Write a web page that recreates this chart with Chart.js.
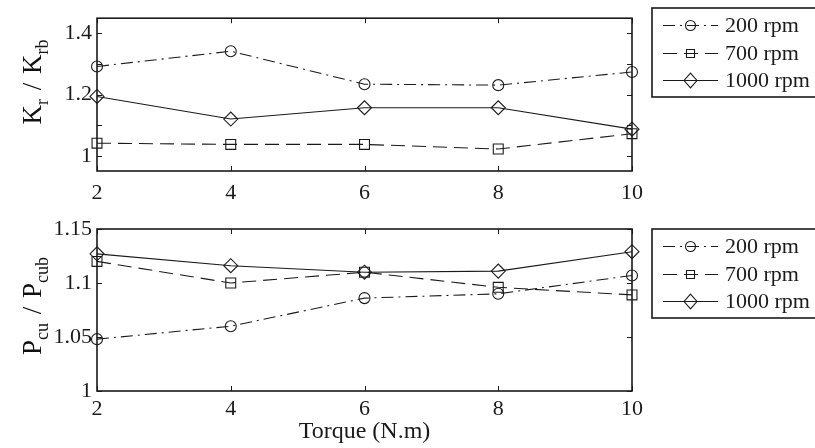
<!DOCTYPE html>
<html lang="en">
<head>
    <meta charset="UTF-8">
    <title>Kr/Krb and Pcu/Pcub vs torque</title>
    <style>
        body { margin: 0; background: #ffffff; }
        #wrap { position: relative; width: 815px; height: 448px; overflow: hidden; font-family: "Liberation Serif", serif; color: #111; }
        canvas { position: absolute; left: 0; }
        #c1 { top: 0; }
        #c2 { top: 210px; }
        .ytitle { position: absolute; width: 0; height: 0; }
        .ytitle span { position: absolute; white-space: nowrap; font-size: 27px; line-height: 1; word-spacing: 2px;
            transform: translate(-50%, -50%) rotate(-90deg); }
        .ytitle sub { font-size: 18px; vertical-align: -7px; }
    </style>
</head>
<body>
<div id="wrap">
    <canvas id="c1" width="815" height="210"></canvas>
    <canvas id="c2" width="815" height="238"></canvas>
    <div class="ytitle" style="left:35px; top:82px;"><span>K<sub>r</sub> / K<sub>rb</sub></span></div>
    <div class="ytitle" style="left:35px; top:306px;"><span>P<sub>cu</sub> / P<sub>cub</sub></span></div>
</div>

<script src="https://cdn.jsdelivr.net/npm/chart.js"></script>
<script>
// data
const torque = [2, 4, 6, 8, 10];
const seriesNames = ['200 rpm', '700 rpm', '1000 rpm'];

const kr200  = [1.292, 1.342, 1.234, 1.231, 1.274];
const kr700  = [1.041, 1.037, 1.037, 1.022, 1.072];
const kr1000 = [1.194, 1.120, 1.157, 1.157, 1.087];

const pcu200  = [1.048, 1.060, 1.086, 1.090, 1.107];
const pcu700  = [1.120, 1.100, 1.110, 1.096, 1.089];
const pcu1000 = [1.127, 1.116, 1.110, 1.111, 1.129];

const krTicks  = [1, 1.1, 1.2, 1.3, 1.4];
const krLabels = ['1', '', '1.2', '', '1.4'];
const pcuTicks  = [1, 1.05, 1.1, 1.15];
const pcuLabels = ['1', '1.05', '1.1', '1.15'];

const INK = '#1a1a1a';
const FONT = '"Liberation Serif", serif';
const styles = [
    { dash: [12, 5, 2, 5], point: 'circle', radius: 5.5 },
    { dash: [14, 7], point: 'rect', radius: 7 },
    { dash: [], point: 'rectRot', radius: 7 }
];

function makeSets(values) {
    return values.map((vals, i) => ({
        label: seriesNames[i],
        data: torque.map((t, j) => ({ x: t, y: vals[j] })),
        borderColor: INK,
        borderWidth: 1.1,
        borderDash: styles[i].dash,
        pointStyle: styles[i].point,
        pointRadius: styles[i].radius,
        pointBorderColor: INK,
        pointBorderWidth: 1.1,
        pointBackgroundColor: 'rgba(0,0,0,0)',
        tension: 0,
        clip: false
    }));
}

// box frame with inward tick marks (matlab style)
const framePlugin = {
    id: 'frame',
    afterDraw(chart) {
        const ctx = chart.ctx, a = chart.chartArea;
        const xs = chart.scales.x, ys = chart.scales.y;
        ctx.save();
        ctx.strokeStyle = INK;
        ctx.lineWidth = 1;
        ctx.beginPath();
        xs.ticks.forEach(t => {
            const px = Math.round(xs.getPixelForValue(t.value)) + 0.5;
            ctx.moveTo(px, a.bottom); ctx.lineTo(px, a.bottom - 5);
            ctx.moveTo(px, a.top); ctx.lineTo(px, a.top + 5);
        });
        ys.ticks.forEach(t => {
            const py = Math.round(ys.getPixelForValue(t.value)) + 0.5;
            ctx.moveTo(a.left, py); ctx.lineTo(a.left + 5, py);
            ctx.moveTo(a.right, py); ctx.lineTo(a.right - 5, py);
        });
        ctx.stroke();
        ctx.lineWidth = 1.6;
        ctx.strokeRect(a.left, a.top, a.right - a.left, a.bottom - a.top);
        ctx.restore();
    }
};

function drawMarker(ctx, style, x, y, r) {
    ctx.beginPath();
    if (style === 'circle') {
        ctx.arc(x, y, r, 0, Math.PI * 2);
    } else if (style === 'rect') {
        ctx.rect(x - r, y - r, 2 * r, 2 * r);
        ctx.moveTo(x - r, y); ctx.lineTo(x + r, y);
    } else {
        ctx.moveTo(x, y - r * 1.15); ctx.lineTo(x + r, y);
        ctx.lineTo(x, y + r * 1.15); ctx.lineTo(x - r, y);
        ctx.closePath();
    }
    ctx.stroke();
}

// boxed legend to the right of the axes
const legendPlugin = {
    id: 'boxLegend',
    afterDraw(chart, args, opts) {
        const ctx = chart.ctx;
        const top = opts.top, left = 652;
        const rows = [17, 45, 72];
        ctx.save();
        ctx.strokeStyle = INK;
        ctx.lineWidth = 1.6;
        ctx.strokeRect(left, top, 200, 89);
        ctx.font = '22px ' + FONT;
        ctx.fillStyle = INK;
        ctx.textBaseline = 'middle';
        chart.data.datasets.forEach((ds, i) => {
            const y = Math.round(top + rows[i]) + 0.5;
            ctx.lineWidth = 1.1;
            ctx.setLineDash(styles[i].dash);
            ctx.beginPath();
            ctx.moveTo(663, y); ctx.lineTo(718, y);
            ctx.stroke();
            ctx.setLineDash([]);
            const r = [5, 4, 6.5][i];
            drawMarker(ctx, styles[i].point, 690.5, y, r);
            ctx.fillText(ds.label, 725, y + 1);
        });
        ctx.restore();
    }
};

function makeChart(id, values, yMin, yMax, yTicks, yLabels, padTop, xHeight, xPad, showTitle) {
    return new Chart(document.getElementById(id), {
        type: 'line',
        data: { datasets: makeSets(values) },
        options: {
            responsive: false,
            animation: false,
            layout: { padding: { top: padTop, right: 183, left: 0, bottom: 0 } },
            plugins: {
                legend: { display: false },
                tooltip: { enabled: false },
                boxLegend: { top: padTop }
            },
            scales: {
                x: {
                    type: 'linear', min: 2, max: 10,
                    grid: { display: false, drawTicks: false },
                    border: { display: false },
                    afterFit(s) { s.height = xHeight; },
                    ticks: { stepSize: 2, padding: xPad, color: INK, font: { family: FONT, size: 22 } },
                    title: {
                        display: showTitle, text: 'Torque (N.m)', color: INK,
                        font: { family: FONT, size: 24 }, padding: { top: 0, bottom: 2 }
                    }
                },
                y: {
                    type: 'linear', min: yMin, max: yMax,
                    grid: { display: false, drawTicks: false },
                    border: { display: false },
                    afterFit(s) { s.width = 97; },
                    afterBuildTicks(s) { s.ticks = yTicks.map(v => ({ value: v })); },
                    ticks: {
                        padding: 5, color: INK, font: { family: FONT, size: 22 },
                        callback: (v) => {
                            const k = yTicks.findIndex(t => Math.abs(t - v) < 1e-9);
                            return k >= 0 ? yLabels[k] : '';
                        }
                    }
                }
            }
        },
        plugins: [framePlugin, legendPlugin]
    });
}

makeChart('c1', [kr200, kr700, kr1000], 0.95, 1.45, krTicks, krLabels, 8, 39, 9, false);
makeChart('c2', [pcu200, pcu700, pcu1000], 1, 1.15, pcuTicks, pcuLabels, 19, 57, 5, true);
</script>
</body>
</html>
